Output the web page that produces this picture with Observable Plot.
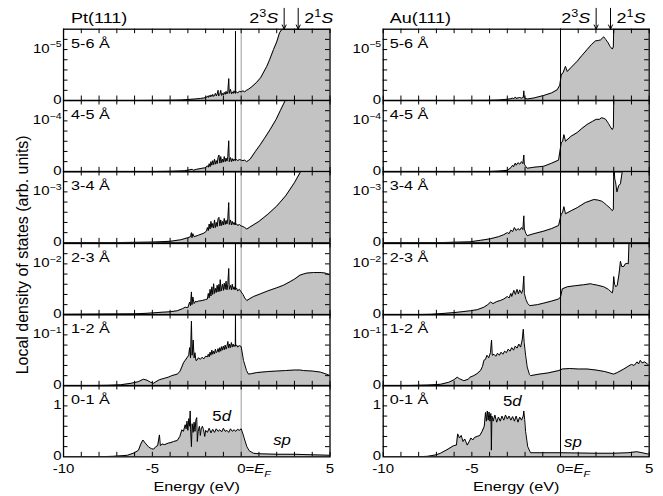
<!DOCTYPE html>
<html><head><meta charset="utf-8">
<script src="https://cdn.jsdelivr.net/npm/d3@7"></script>
<script src="https://cdn.jsdelivr.net/npm/@observablehq/plot@0.6"></script>
<style>
body{margin:0;background:#fff}
#chart{position:relative;width:663px;height:496px;overflow:hidden;background:#fff}
</style>
</head><body><div id="chart"></div>
<script>
// ---------------- data ----------------
const depthLabels = ["5-6 Å","4-5 Å","3-4 Å","2-3 Å","1-2 Å","0-1 Å"];
const scaleExponents = [-5,-4,-3,-2,-1,0];
const xTickValues = [-10,-5,0,5];
const xTickLabels = ["-10","-5","0=*E*_{F}","5"];
const xTitle = "Energy (eV)";
const yTitle = "Local density of states (arb. units)";
const surfaces = ["Pt(111)","Au(111)"];
const stateLabels = ["2^{3}*S*","2^{1}*S*"];
const ptArrowEnergies = [2.42, 3.21];
const auArrowEnergies = [2.01, 2.82];
const fermiLevel = [0];
const ptBandLabels = [[-1.1, 0.7, "5*d*"], [2.3, 0.23, "*sp*"]];
const auBandLabels = [[-2.72, 1.0, "5*d*"], [0.7, 0.2, "*sp*"]];

// Pt(111): [energy eV, LDOS in units of the panel scale]
const pt56 = [[-10,0],[-6,0],[-4,0.005],[-3.4,0.01],[-3,0.02],[-2.6,0.03],[-2.3,0.04],[-2.1,0.05],[-1.95,0.06],
[-1.9,0.09],[-1.85,0.06],[-1.8,0.1],[-1.75,0.07],[-1.7,0.11],[-1.65,0.08],[-1.6,0.12],[-1.55,0.08],[-1.5,0.1],[-1.45,0.14],[-1.4,0.09],[-1.35,0.13],[-1.3,0.2],[-1.27,0.09],[-1.2,0.12],[-1.15,0.2],[-1.1,0.1],[-1.05,0.14],[-1.0,0.11],[-0.95,0.16],[-0.9,0.12],[-0.85,0.18],[-0.8,0.13],[-0.75,0.17],[-0.7,0.43],[-0.67,0.14],[-0.6,0.22],[-0.55,0.13],[-0.5,0.17],[-0.45,0.14],[-0.4,0.19],[-0.35,0.15],[-0.33,0.14],[-0.32,1.36],[-0.31,0.15],[-0.25,0.17],[-0.2,0.15],[-0.1,0.18],[0,0.17],[0.1,0.19],[0.2,0.17],[0.3,0.2],[0.41,0.22],[0.6,0.27],[0.88,0.36],[1.1,0.45],[1.44,0.67],[1.6,0.8],[1.82,1.0],[2.0,1.15],[2.16,1.33],[2.3,1.45],[3,2.2],[4,3.3],[5,4.5]];
const pt45 = [[-10,0],[-6,0],[-4,0.01],[-3.2,0.02],[-2.75,0.05],[-2.7,0.03],[-2.5,0.05],[-2.2,0.07],[-2.0,0.08],[-1.9,0.12],
[-1.85,0.09],[-1.8,0.16],[-1.75,0.1],[-1.7,0.2],[-1.65,0.13],[-1.6,0.22],[-1.55,0.14],[-1.5,0.25],[-1.45,0.15],[-1.4,0.22],[-1.35,0.16],[-1.3,0.28],[-1.25,0.33],[-1.2,0.17],[-1.15,0.3],[-1.1,0.18],[-1.05,0.25],[-1.0,0.19],[-0.95,0.3],[-0.9,0.2],[-0.85,0.27],[-0.8,0.21],[-0.75,0.3],[-0.7,0.61],[-0.67,0.2],[-0.6,0.28],[-0.55,0.2],[-0.5,0.26],[-0.45,0.21],[-0.4,0.25],[-0.35,0.22],[-0.33,0.22],[-0.32,3],[-0.31,0.23],[-0.25,0.24],[-0.2,0.22],[-0.1,0.24],[0,0.23],[0.1,0.22],[0.2,0.23],[0.3,0.2],[0.4,0.22],[0.51,0.25],[0.8,0.4],[1.07,0.53],[1.3,0.65],[1.63,0.83],[1.97,1.03],[2.2,1.2],[2.48,1.4],[3,1.85],[4,2.8],[5,3.8]];
const pt34 = [[-10,0],[-7,0.005],[-5,0.015],[-4,0.03],[-3.4,0.06],[-3.0,0.1],[-2.85,0.12],[-2.8,0.2],[-2.77,0.1],[-2.72,0.18],[-2.65,0.12],[-2.4,0.15],[-2.1,0.19],[-1.95,0.23],
[-1.9,0.3],[-1.85,0.24],[-1.8,0.37],[-1.75,0.27],[-1.7,0.42],[-1.65,0.3],[-1.6,0.38],[-1.55,0.29],[-1.5,0.45],[-1.45,0.3],[-1.4,0.4],[-1.35,0.32],[-1.3,0.47],[-1.25,0.5],[-1.2,0.33],[-1.15,0.45],[-1.1,0.34],[-1.05,0.42],[-1.0,0.35],[-0.95,0.48],[-0.9,0.36],[-0.85,0.44],[-0.8,0.37],[-0.75,0.47],[-0.7,0.79],[-0.67,0.36],[-0.6,0.45],[-0.55,0.35],[-0.5,0.42],[-0.45,0.36],[-0.4,0.4],[-0.35,0.35],[-0.33,0.36],[-0.32,3],[-0.31,0.36],[-0.25,0.37],[-0.2,0.34],[-0.1,0.36],[0,0.33],[0.1,0.32],[0.2,0.3],[0.32,0.27],[0.45,0.3],[1.0,0.42],[1.5,0.56],[2.0,0.72],[2.5,0.92],[3.0,1.18],[3.35,1.42],[4,2.0],[5,2.9]];
const pt23 = [[-10,0.01],[-8,0.015],[-6,0.02],[-5.3,0.03],[-4.5,0.05],[-4,0.06],[-3.6,0.08],[-3.3,0.12],[-3.15,0.15],[-3.0,0.14],[-2.9,0.25],[-2.85,0.18],[-2.8,0.45],[-2.77,0.2],[-2.72,0.35],[-2.65,0.22],[-2.55,0.27],[-2.5,0.25],[-2.4,0.27],[-2.2,0.28],[-2.0,0.3],[-1.9,0.31],
[-1.85,0.42],[-1.8,0.33],[-1.75,0.5],[-1.7,0.37],[-1.65,0.55],[-1.6,0.4],[-1.55,0.61],[-1.5,0.42],[-1.45,0.52],[-1.4,0.44],[-1.35,0.58],[-1.3,0.45],[-1.25,0.6],[-1.2,0.46],[-1.18,0.69],[-1.12,0.47],[-1.05,0.6],[-1.0,0.48],[-0.95,0.62],[-0.9,0.5],[-0.85,0.66],[-0.8,0.49],[-0.75,0.6],[-0.7,0.91],[-0.67,0.5],[-0.6,0.58],[-0.55,0.49],[-0.5,0.6],[-0.45,0.5],[-0.4,0.55],[-0.35,0.49],[-0.33,0.5],[-0.32,3],[-0.31,0.5],[-0.25,0.52],[-0.2,0.47],[-0.1,0.5],[0,0.45],[0.1,0.4],[0.2,0.33],[0.32,0.28],[0.5,0.32],[0.7,0.36],[1.07,0.41],[1.5,0.47],[2.0,0.53],[2.38,0.58],[2.8,0.66],[3.0,0.7],[3.32,0.78],[3.5,0.8],[3.7,0.82],[4.07,0.83],[4.5,0.83],[4.73,0.82],[5,0.78]];
const pt12 = [[-10,0],[-8.5,0.005],[-7.5,0.01],[-6.8,0.02],[-6.2,0.05],[-5.8,0.08],[-5.5,0.13],[-5.3,0.11],[-5.1,0.07],[-4.93,0.05],[-4.8,0.08],[-4.6,0.12],[-4.5,0.13],[-4.3,0.15],[-4.1,0.17],[-3.9,0.2],[-3.6,0.23],[-3.45,0.28],[-3.34,0.37],[-3.25,0.45],[-3.15,0.5],[-3.05,0.55],[-2.95,0.6],[-2.9,0.75],[-2.85,0.55],[-2.8,1.27],[-2.76,0.6],[-2.7,0.9],[-2.65,0.55],[-2.6,0.65],[-2.55,0.5],[-2.5,0.5],[-2.4,0.55],[-2.3,0.52],[-2.2,0.56],[-2.1,0.53],[-2.0,0.58],[-1.9,0.57],[-1.85,0.62],[-1.8,0.57],[-1.75,0.66],[-1.7,0.6],[-1.65,0.7],[-1.6,0.62],[-1.55,0.68],[-1.5,0.63],[-1.45,0.72],[-1.4,0.65],[-1.35,0.67],[-1.3,0.73],[-1.25,0.66],[-1.2,0.75],[-1.15,0.68],[-1.1,0.77],[-1.05,0.7],[-1.0,0.78],[-0.95,0.71],[-0.9,0.8],[-0.85,0.72],[-0.8,0.77],[-0.75,0.87],[-0.7,0.74],[-0.65,0.82],[-0.6,0.75],[-0.55,0.85],[-0.5,0.76],[-0.45,0.82],[-0.4,0.77],[-0.35,0.8],[-0.33,0.78],[-0.32,3],[-0.31,0.78],[-0.25,0.8],[-0.2,0.76],[-0.1,0.79],[0,0.77],[0.13,0.5],[0.3,0.3],[0.41,0.23],[0.6,0.24],[0.88,0.26],[1.5,0.28],[2.0,0.29],[2.5,0.3],[3.0,0.31],[3.32,0.31],[3.5,0.3],[4.0,0.29],[4.45,0.27],[4.8,0.23],[5,0.2]];
const pt01 = [[-10,0],[-8,0.002],[-7.2,0.01],[-6.4,0.03],[-6.0,0.08],[-5.78,0.13],[-5.65,0.25],[-5.53,0.33],[-5.4,0.27],[-5.2,0.19],[-5.05,0.16],[-4.93,0.15],[-4.8,0.2],[-4.7,0.22],[-4.6,0.43],[-4.55,0.22],[-4.45,0.25],[-4.3,0.24],[-4.1,0.27],[-3.95,0.28],[-3.81,0.3],[-3.6,0.32],[-3.45,0.4],[-3.34,0.53],[-3.25,0.5],[-3.15,0.63],[-3.1,0.55],[-3.05,0.7],[-3.0,0.52],[-2.95,0.75],[-2.9,0.6],[-2.87,0.9],[-2.84,0.45],[-2.8,0.2],[-2.76,0.65],[-2.7,0.48],[-2.65,0.68],[-2.6,0.5],[-2.55,0.72],[-2.5,0.77],[-2.47,0.3],[-2.42,0.5],[-2.35,0.6],[-2.3,0.42],[-2.25,0.55],[-2.18,0.6],[-2.12,0.53],[-2.05,0.4],[-2.0,0.52],[-1.9,0.48],[-1.8,0.56],[-1.7,0.47],[-1.6,0.54],[-1.5,0.48],[-1.4,0.55],[-1.3,0.5],[-1.2,0.53],[-1.1,0.49],[-1.0,0.56],[-0.9,0.5],[-0.8,0.52],[-0.7,0.48],[-0.6,0.55],[-0.5,0.5],[-0.4,0.53],[-0.3,0.5],[-0.2,0.54],[-0.1,0.52],[0,0.55],[0.1,0.45],[0.2,0.33],[0.32,0.2],[0.45,0.12],[0.69,0.07],[1.0,0.06],[2,0.05],[3,0.05],[4,0.04],[5,0.03]];

// Au(111)
const au56 = [[-10,0],[-6,0],[-4.1,0.003],[-3.5,0.01],[-3.0,0.025],[-2.8,0.035],[-2.7,0.05],[-2.65,0.03],[-2.54,0.07],[-2.5,0.04],[-2.4,0.05],[-2.3,0.06],[-2.2,0.045],[-2.1,0.06],[-2.07,0.19],[-2.04,0.05],[-1.95,0.04],[-1.88,0.03],[-1.5,0.05],[-0.94,0.1],[-0.5,0.15],[-0.19,0.21],[-0.04,0.3],[0.04,0.5],[0.15,0.55],[0.28,0.67],[0.38,0.57],[0.6,0.65],[0.94,0.77],[1.2,0.88],[1.5,1.0],[1.75,1.1],[1.97,1.17],[2.15,1.18],[2.26,1.19],[2.35,1.22],[2.44,1.25],[2.55,1.2],[2.69,1.13],[2.8,1.06],[2.92,1.01],[2.98,1.05],[3.0,5],[5,5]];
const au45 = [[-10,0],[-6,0],[-4.1,0.005],[-3.5,0.015],[-3.0,0.03],[-2.8,0.08],[-2.7,0.13],[-2.65,0.1],[-2.55,0.17],[-2.5,0.13],[-2.4,0.18],[-2.3,0.15],[-2.2,0.2],[-2.12,0.16],[-2.07,0.33],[-2.04,0.15],[-1.95,0.1],[-1.88,0.07],[-1.5,0.09],[-0.94,0.11],[-0.5,0.17],[-0.11,0.23],[0.04,0.57],[0.12,0.6],[0.19,0.73],[0.28,0.6],[0.6,0.7],[0.94,0.77],[1.2,0.85],[1.5,0.93],[1.8,0.99],[2.01,1.03],[2.2,1.03],[2.3,1.06],[2.44,1.05],[2.55,1.03],[2.7,0.95],[2.85,0.86],[2.92,0.83],[2.98,0.87],[3.0,5],[5,5]];
const au34 = [[-10,0],[-7,0.003],[-5.1,0.02],[-4.5,0.05],[-3.95,0.08],[-3.5,0.12],[-3.2,0.16],[-3.0,0.2],[-2.9,0.18],[-2.8,0.25],[-2.7,0.22],[-2.6,0.3],[-2.5,0.24],[-2.4,0.28],[-2.3,0.25],[-2.2,0.3],[-2.12,0.26],[-2.07,0.53],[-2.04,0.27],[-1.95,0.18],[-1.88,0.14],[-1.5,0.18],[-0.94,0.23],[-0.5,0.28],[-0.11,0.34],[0.04,0.56],[0.12,0.6],[0.19,0.71],[0.28,0.57],[0.6,0.63],[0.94,0.69],[1.4,0.79],[1.88,0.85],[2.1,0.84],[2.3,0.82],[2.44,0.79],[2.6,0.74],[2.8,0.68],[2.92,0.63],[2.98,0.66],[3.0,3],[3.03,3],[3.06,1.25],[3.1,1.2],[3.18,1.0],[3.28,1.12],[3.38,1.16],[3.48,1.42],[3.55,3],[5,3]];
const au23 = [[-10,0],[-8,0.005],[-7.3,0.01],[-6.5,0.03],[-5.83,0.05],[-5.08,0.08],[-4.7,0.1],[-4.32,0.15],[-4.1,0.2],[-3.95,0.25],[-3.8,0.22],[-3.6,0.26],[-3.4,0.28],[-3.2,0.31],[-3.0,0.36],[-2.9,0.33],[-2.8,0.42],[-2.75,0.36],[-2.63,0.48],[-2.55,0.4],[-2.45,0.5],[-2.38,0.41],[-2.3,0.49],[-2.2,0.42],[-2.12,0.5],[-2.07,0.76],[-2.04,0.42],[-1.95,0.3],[-1.85,0.22],[-1.73,0.18],[-1.3,0.2],[-0.94,0.23],[-0.5,0.27],[-0.11,0.31],[0.0,0.35],[0.1,0.51],[0.38,0.55],[0.8,0.57],[1.3,0.59],[1.69,0.61],[1.8,0.6],[2.1,0.58],[2.44,0.55],[2.7,0.5],[2.85,0.45],[2.92,0.43],[2.96,0.5],[3.0,0.75],[3.05,0.6],[3.12,0.55],[3.2,0.58],[3.3,0.8],[3.38,1.05],[3.45,0.95],[3.57,0.95],[3.65,1.0],[3.76,1.01],[3.82,1.0],[3.86,3],[5,3]];
const au12 = [[-10,0],[-9.2,0.002],[-8.3,0.008],[-7.5,0.015],[-6.77,0.03],[-6.3,0.07],[-6.0,0.12],[-5.83,0.17],[-5.7,0.14],[-5.45,0.1],[-5.2,0.13],[-5.1,0.17],[-4.89,0.2],[-4.7,0.24],[-4.51,0.3],[-4.4,0.38],[-4.32,0.5],[-4.23,0.52],[-4.15,0.6],[-4.05,0.55],[-3.95,0.65],[-3.89,0.9],[-3.85,0.6],[-3.75,0.62],[-3.65,0.58],[-3.55,0.64],[-3.45,0.6],[-3.35,0.66],[-3.25,0.62],[-3.15,0.68],[-3.05,0.65],[-2.95,0.72],[-2.85,0.68],[-2.75,0.75],[-2.65,0.7],[-2.55,0.78],[-2.45,0.74],[-2.35,0.82],[-2.25,0.76],[-2.16,0.9],[-2.1,1.11],[-2.05,0.85],[-1.97,0.6],[-1.88,0.37],[-1.75,0.22],[-1.69,0.2],[-1.2,0.23],[-0.75,0.25],[-0.09,0.3],[0.1,0.33],[0.5,0.34],[1.0,0.33],[1.5,0.33],[2.0,0.31],[2.5,0.28],[3.0,0.23],[3.2,0.26],[3.57,0.33],[3.8,0.38],[4.0,0.42],[4.15,0.4],[4.32,0.47],[4.4,0.43],[4.5,0.5],[4.6,0.45],[4.75,0.47],[4.89,0.43],[5,0.4]];
const au01 = [[-10,0],[-8,0.002],[-7.5,0.01],[-7.0,0.04],[-6.77,0.07],[-6.4,0.14],[-6.02,0.22],[-5.87,0.23],[-5.8,0.45],[-5.7,0.37],[-5.6,0.42],[-5.5,0.3],[-5.4,0.35],[-5.26,0.23],[-5.15,0.3],[-5.05,0.37],[-4.95,0.33],[-4.85,0.38],[-4.7,0.4],[-4.55,0.42],[-4.42,0.5],[-4.3,0.6],[-4.23,0.87],[-4.18,0.7],[-4.13,0.9],[-4.08,0.72],[-4.03,0.88],[-3.98,0.7],[-3.93,0.85],[-3.9,0.13],[-3.87,0.8],[-3.8,0.7],[-3.7,0.82],[-3.6,0.68],[-3.5,0.78],[-3.4,0.7],[-3.3,0.8],[-3.2,0.72],[-3.1,0.82],[-3.0,0.74],[-2.9,0.8],[-2.8,0.72],[-2.7,0.79],[-2.6,0.7],[-2.5,0.8],[-2.4,0.68],[-2.3,0.78],[-2.2,0.72],[-2.1,0.8],[-2.07,0.9],[-2.02,0.73],[-1.97,0.5],[-1.85,0.2],[-1.69,0.08],[-1,0.08],[0,0.08],[1,0.075],[2,0.07],[3,0.07],[3.8,0.08],[4.3,0.1],[4.6,0.08],[5,0.05]];

// ---------------- layout / style ----------------
const W = 663, H = 496;
const PANEL_TOP = 28.7, PH = 71.33, YMAX = 1.40;
const X_DOMAIN = [-10, 5];
const TICK = 4.5;
const FILL = "#c3c3c3";
const FONT = "'Liberation Sans', Arial, Helvetica, sans-serif";
const TEXT_STRETCH = 1.2;
const NS = "http://www.w3.org/2000/svg";

const columns = [
  {title: surfaces[0], ml: 63, pw: 266.5, ef: "#9a9a9a", arrows: ptArrowEnergies, series: [pt56, pt45, pt34, pt23, pt12, pt01], band: ptBandLabels, dx: 7.5},
  {title: surfaces[1], ml: 382.7, pw: 266, ef: "#000", arrows: auArrowEnergies, series: [au56, au45, au34, au23, au12, au01], band: auBandLabels, dx: 6.5}
];

function richify(svg) {
  for (const t of svg.querySelectorAll("text")) {
    const tr = t.getAttribute("transform") || "";
    if (!tr.includes("rotate")) t.setAttribute("transform", tr + ` scale(${TEXT_STRETCH},1)`);
    const s = t.textContent;
    if (!/[\^_*]/.test(s)) continue;
    const fs = parseFloat(getComputedStyle(t).fontSize) || 12;
    while (t.firstChild) t.removeChild(t.firstChild);
    const re = /\^\{([^}]*)\}|_\{([^}]*)\}|\*([^*]*)\*|([^\^_*]+)/g;
    let m, shift = 0;
    while ((m = re.exec(s))) {
      const ts = document.createElementNS(NS, "tspan");
      let target = 0, txt;
      if (m[1] != null) { txt = m[1]; ts.setAttribute("font-size", fs * 0.7); target = -fs * 0.42; }
      else if (m[2] != null) { txt = m[2]; ts.setAttribute("font-size", fs * 0.7); ts.setAttribute("font-style", "italic"); target = fs * 0.28; }
      else if (m[3] != null) { txt = m[3]; ts.setAttribute("font-style", "italic"); }
      else txt = m[4];
      ts.textContent = txt;
      if (target - shift !== 0) ts.setAttribute("dy", target - shift);
      shift = target;
      t.appendChild(ts);
    }
  }
}

const chart = document.getElementById("chart");
const xMinor = d3.range(X_DOMAIN[0], X_DOMAIN[1] + 0.5, 1);
const yMinor = d3.range(0.2, YMAX, 0.2);

columns.forEach((c, ci) => {
  c.series.forEach((data, i) => {
    const first = i === 0, last = i === 5;
    const mt = first ? PANEL_TOP : 6;
    const mb = last ? H - (PANEL_TOP + 6 * PH) : 6;
    const exp = scaleExponents[i];
    const unitLabel = exp === 0 ? "1" : `10^{−${-exp}}`;
    const yLabelRows = [{y: 0, x: X_DOMAIN[0], t: "0"}, {y: 1, x: X_DOMAIN[0], t: unitLabel}];
    const marks = [
      Plot.areaY(data, {x: d => d[0], y: d => Math.min(d[1], YMAX), fill: FILL, clip: true}),
      Plot.ruleX(fermiLevel, {x: d => d, stroke: c.ef, strokeWidth: 1}),
      Plot.lineY(data, {x: d => d[0], y: d => Math.min(d[1], YMAX), stroke: "#000", strokeWidth: 1, clip: true}),
      // inward ticks on all four sides
      Plot.ruleX(xMinor, {x: d => d, insetTop: PH - TICK, stroke: "#000", strokeWidth: 1}),
      Plot.ruleX(xMinor, {x: d => d, insetBottom: PH - TICK, stroke: "#000", strokeWidth: 1}),
      Plot.ruleY(yMinor, {y: d => d, insetRight: c.pw - TICK, stroke: "#000", strokeWidth: 1}),
      Plot.ruleY(yMinor, {y: d => d, insetLeft: c.pw - TICK, stroke: "#000", strokeWidth: 1}),
      Plot.frame({stroke: "#000", strokeWidth: 1.3}),
      Plot.text(yLabelRows, {x: "x", y: "y", text: "t", textAnchor: "end", lineAnchor: "middle", dx: -2, dy: -1, fontSize: 12.5}),
      Plot.text([depthLabels[i]], {text: d => d, frameAnchor: "top-left", textAnchor: "start", lineAnchor: "top", dx: c.dx, dy: 9, fontSize: 13.5})
    ];
    if (first) {
      marks.push(
        Plot.text([c.title], {text: d => d, frameAnchor: "top-left", textAnchor: "start", lineAnchor: "bottom", dx: c.dx, dy: -6, fontSize: 15}),
        Plot.arrow(c.arrows, {x1: d => d, x2: d => d, y1: () => YMAX + 0.41, y2: () => YMAX, stroke: "#000", strokeWidth: 1, headLength: 7, headAngle: 50}),
        Plot.text([c.arrows[0]], {x: d => d, y: () => YMAX, text: () => stateLabels[0], textAnchor: "end", lineAnchor: "bottom", dx: -6, dy: -6, fontSize: 15}),
        Plot.text([c.arrows[1]], {x: d => d, y: () => YMAX, text: () => stateLabels[1], textAnchor: "start", lineAnchor: "bottom", dx: 6, dy: -6, fontSize: 15})
      );
    }
    if (last) {
      const labels = xTickValues.map((v, k) => ({v, t: xTickLabels[k]}));
      marks.push(
        Plot.text(labels.filter(d => d.v !== 0), {x: d => d.v, text: d => d.t, frameAnchor: "bottom", textAnchor: "middle", lineAnchor: "bottom", dy: 16.5, fontSize: 12.5}),
        Plot.text(labels.filter(d => d.v === 0), {x: d => d.v, text: d => d.t, frameAnchor: "bottom", textAnchor: "start", lineAnchor: "bottom", dx: -4, dy: 16.5, fontSize: 12.5}),
        Plot.text([xTitle], {text: d => d, frameAnchor: "bottom", textAnchor: "middle", lineAnchor: "bottom", dy: 34.5, fontSize: 13.5}),
        Plot.text(c.band, {x: d => d[0], y: d => d[1], text: d => d[2], textAnchor: "middle", lineAnchor: "bottom", fontSize: 14})
      );
    }
    if (ci === 0 && i === 2) {
      marks.push(Plot.text([yTitle], {text: d => d, frameAnchor: "bottom-left", rotate: -90, textAnchor: "middle", lineAnchor: "middle", dx: -41, dy: 12, fontSize: 16}));
    }
    const svg = Plot.plot({
      width: W,
      height: mt + PH + mb,
      marginLeft: c.ml,
      marginRight: W - c.ml - c.pw,
      marginTop: mt,
      marginBottom: mb,
      x: {domain: X_DOMAIN, axis: null},
      y: {domain: [0, YMAX], axis: null},
      style: {background: "transparent", overflow: "visible", fontFamily: FONT, color: "#000"},
      marks
    });
    svg.style.position = "absolute";
    svg.style.left = "0px";
    svg.style.top = (PANEL_TOP + i * PH - mt) + "px";
    svg.style.maxWidth = "none";
    chart.appendChild(svg);
    richify(svg);
  });
});
</script>
</body></html>
